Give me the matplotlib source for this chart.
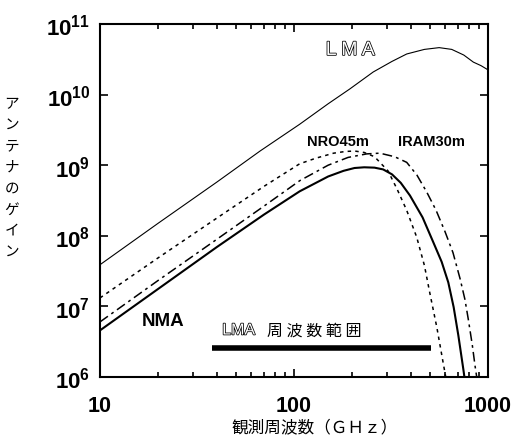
import matplotlib
matplotlib.use('Agg')
import numpy as np
from matplotlib import pyplot as plt
from matplotlib import patheffects as pe
from matplotlib.ticker import LogLocator, NullLocator, NullFormatter

################
# Data Storage #
################

# (GHz, antenna gain)
lma_f = [10, 20, 40, 66.8, 107, 150, 194, 256, 320, 381, 470, 560, 650, 750, 840, 920, 1000]
lma_g = [10**7.59, 10**8.18, 10**8.76, 10**9.20, 10**9.58, 10**9.87, 10**10.08, 10**10.32,
         10**10.47, 10**10.575, 10**10.64, 10**10.665, 10**10.64, 10**10.56, 10**10.46,
         10**10.41, 10**10.35]

nro_f = [10, 20, 40, 70, 107, 130, 160, 185, 206, 230, 260, 305, 340, 381, 429, 470, 502,
         545, 589, 610]
nro_g = [10**7.12, 10**7.69, 10**8.25, 10**8.70, 10**9.02, 10**9.10, 10**9.17, 10**9.195,
         10**9.20, 10**9.18, 10**9.12, 10**8.92, 10**8.66, 10**8.36, 10**7.98, 10**7.58,
         10**7.18, 10**6.70, 10**6.18, 10**5.95]

iram_f = [10, 20, 40, 70, 107, 150, 190, 237, 277, 330, 381, 430, 483, 540, 600, 660, 718,
          760, 791, 830, 857, 880]
iram_g = [10**6.78, 10**7.37, 10**7.95, 10**8.42, 10**8.78, 10**9.00, 10**9.11, 10**9.16,
          10**9.17, 10**9.12, 10**9.04, 10**8.86, 10**8.62, 10**8.36, 10**8.06, 10**7.76,
          10**7.39, 10**7.10, 10**6.82, 10**6.45, 10**6.16, 10**5.95]

nma_f = [10, 20, 40, 70, 107, 150, 180, 205, 230, 260, 288, 320, 355, 396, 460, 522, 577,
         624, 665, 703, 746, 760]
nma_g = [10**6.66, 10**7.25, 10**7.84, 10**8.30, 10**8.63, 10**8.84, 10**8.92, 10**8.96,
         10**8.97, 10**8.965, 10**8.94, 10**8.87, 10**8.75, 10**8.57, 10**8.26, 10**7.91,
         10**7.63, 10**7.34, 10**6.99, 10**6.59, 10**6.11, 10**5.95]

lma_range = [38, 510]     # LMA frequency coverage (GHz)
lma_range_g = 2.6e6

x_ticks = [10, 100, 1000]
x_ticklabels = ['10', '100', '1000']
y_ticks = [1e6, 1e7, 1e8, 1e9, 1e10, 1e11]
y_ticklabels = [r'$\mathbf{10^{%d}}$' % k for k in range(6, 12)]

##############################
# MatPlotLib Initializations #
##############################

plt.rcParams['mathtext.fontset'] = 'custom'
plt.rcParams['mathtext.rm'] = 'Liberation Sans'
plt.rcParams['mathtext.bf'] = 'Liberation Sans:bold'
plt.rcParams['lines.scale_dashes'] = False

jp_font = ['Noto Sans CJK JP', 'DejaVu Sans']
hollow = [pe.withStroke(linewidth = 1.1, foreground = 'black')]

fig = plt.figure(figsize = (5.2, 4.39), dpi = 100)
ax = fig.add_axes([0.1923, 0.139, 0.7462, 0.8041])

ax.set_xscale('log')
ax.set_yscale('log')

ax.plot(lma_f, lma_g, color = 'black', linewidth = 0.8)
ax.plot(nro_f, nro_g, color = 'black', linewidth = 1.1, dashes = (2.5, 3))
ax.plot(iram_f, iram_g, color = 'black', linewidth = 1.1, dashes = (7, 3, 2, 3))
ax.plot(nma_f, nma_g, color = 'black', linewidth = 1.5)
ax.plot(lma_range, [lma_range_g, lma_range_g], color = 'black', linewidth = 4,
        solid_capstyle = 'butt')

ax.set_xlim(10, 1000)
ax.set_ylim(1e6, 1e11)

# Axis ticks
ax.set_xticks(x_ticks)
ax.set_xticklabels(x_ticklabels, fontsize = 15.5, fontweight = 'bold', family = 'Liberation Sans')
ax.xaxis.set_minor_locator(LogLocator(base = 10, subs = np.arange(2, 10)))
ax.xaxis.set_minor_formatter(NullFormatter())
ax.set_yticks(y_ticks)
ax.set_yticklabels(y_ticklabels, fontsize = 16)
ax.yaxis.set_minor_locator(NullLocator())

ax.tick_params(which = 'both', direction = 'in', top = True, right = True, width = 1.2)
ax.tick_params(which = 'major', length = 6)
ax.tick_params(which = 'minor', length = 3.5)
ax.tick_params(axis = 'x', pad = 13)
ax.tick_params(axis = 'y', pad = 7)
for side in ax.spines:
    ax.spines[side].set_linewidth(1.5)

# Curve labels
ax.text(0.645, 0.925, 'L M A', transform = ax.transAxes, fontsize = 14, color = 'white',
        family = 'Liberation Sans', ha = 'center', va = 'center', path_effects = hollow)
ax.text(0.613, 0.668, 'NRO45m', transform = ax.transAxes, fontsize = 10.5,
        fontweight = 'bold', family = 'Liberation Sans', ha = 'center', va = 'center')
ax.text(0.855, 0.668, 'IRAM30m', transform = ax.transAxes, fontsize = 10.5,
        fontweight = 'bold', family = 'Liberation Sans', ha = 'center', va = 'center')
ax.text(0.163, 0.161, 'NMA', transform = ax.transAxes, fontsize = 13.5,
        fontweight = 'bold', family = 'Liberation Sans', ha = 'center', va = 'center')
ax.text(0.315, 0.133, 'LMA', transform = ax.transAxes, fontsize = 11.5, color = 'white',
        family = 'Liberation Sans', ha = 'left', va = 'center', path_effects = hollow)
ax.text(0.43, 0.133, '周 波 数 範 囲', transform = ax.transAxes, fontsize = 11.5,
        family = jp_font, ha = 'left', va = 'center')

# Axis titles
fig.text(0.605, 0.025, '観測周波数（ＧＨｚ）', fontsize = 12, family = jp_font,
         ha = 'center', va = 'center')
fig.text(0.023, 0.595, '\n'.join('アンテナのゲイン'), fontsize = 10.5, family = jp_font,
         ha = 'center', va = 'center', linespacing = 1.65)

plt.savefig('out.png', dpi = 100)
